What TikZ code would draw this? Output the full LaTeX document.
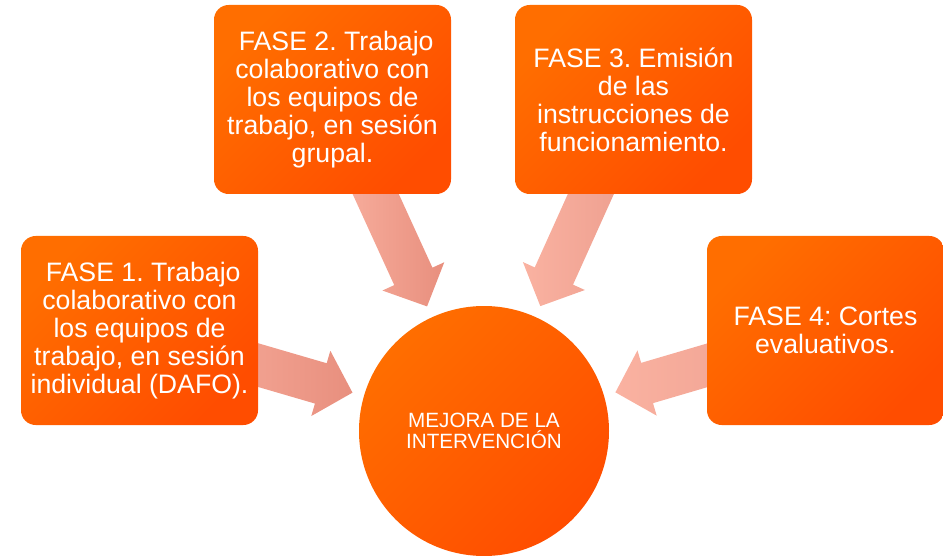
\documentclass[tikz,border=0pt]{standalone}
\usepackage{fontspec}
\setmainfont{Liberation Sans}
\frenchspacing
\usetikzlibrary{positioning, calc, backgrounds}
\definecolor{naranjaA}{HTML}{FF6E00}
\definecolor{naranjaB}{HTML}{FF4D00}
\definecolor{salmonA}{HTML}{FCB6A5}
\definecolor{salmonB}{HTML}{E88F7E}
\tikzset{
  diagrama/.style={
	x=0.75pt, y=-0.75pt, % one unit is one pixel
	every node/.style={text=white, align=center}, % white centred text
  },
  fase/.style={
	rectangle, rounded corners=11pt, % the four phases
	minimum width=177.75pt, minimum height=141.75pt,
	left color=naranjaA, right color=naranjaB, shading angle=45,
	font=\fontsize{20}{21}\selectfont,
  },
  mejora/.style={
	circle, minimum size=187.5pt, inner sep=0pt, % the centre
	left color=naranjaA, right color=naranjaB, shading angle=45,
	font=\fontsize{15.5}{16}\selectfont,
  },
  flechaA/.style={left color=salmonA, right color=salmonB}, % darker towards the right
  flechaB/.style={left color=salmonA!90!salmonB, right color=salmonB!90!white}, % lighter towards the left
}
% block arrow from #1 to the rim of #2
\newcommand{\flecha}[3]{
	\coordinate (t) at ($(#2.center)!102.75pt!(#1.center)$);
	\coordinate (h) at ($(t)!24.75pt!(#1.center)$);
	\path[#3] ($(#1.center)!15.75pt!90:(t)$) -- ($(h)!15.75pt!90:(t)$)
		-- ($(h)!25.5pt!90:(t)$) -- (t) -- ($(h)!25.5pt!-90:(t)$)
		-- ($(h)!15.75pt!-90:(t)$) -- ($(#1.center)!15.75pt!-90:(t)$) -- cycle;
}

\begin{document}
\begin{tikzpicture}[diagrama]
	\useasboundingbox (0,0) rectangle (943,556);

	\node[fase] (f1) at (139.5,330.5) {\ FASE 1. Trabajo\\colaborativo con\\los equipos de\\trabajo, en sesión\\individual (DAFO).};
	\node[fase] (f2) at (332.5,99.5) {\ FASE 2. Trabajo\\colaborativo con\\los equipos de\\trabajo, en sesión\\grupal.};
	\node[fase] (f3) at (633.5,99.5) {FASE 3. Emisión\\de las\\instrucciones de\\funcionamiento.};
	\node[fase] (f4) at (825.5,330.5) {FASE 4: Cortes\\evaluativos.};
	\node[mejora] (m) at (484,431) {MEJORA DE LA\\INTERVENCIÓN};

	\begin{scope}[on background layer]
		\flecha{f1}{m}{flechaA}
		\flecha{f2}{m}{flechaA}
		\flecha{f3}{m}{flechaB}
		\flecha{f4}{m}{flechaB}
	\end{scope}
\end{tikzpicture}
\end{document}
